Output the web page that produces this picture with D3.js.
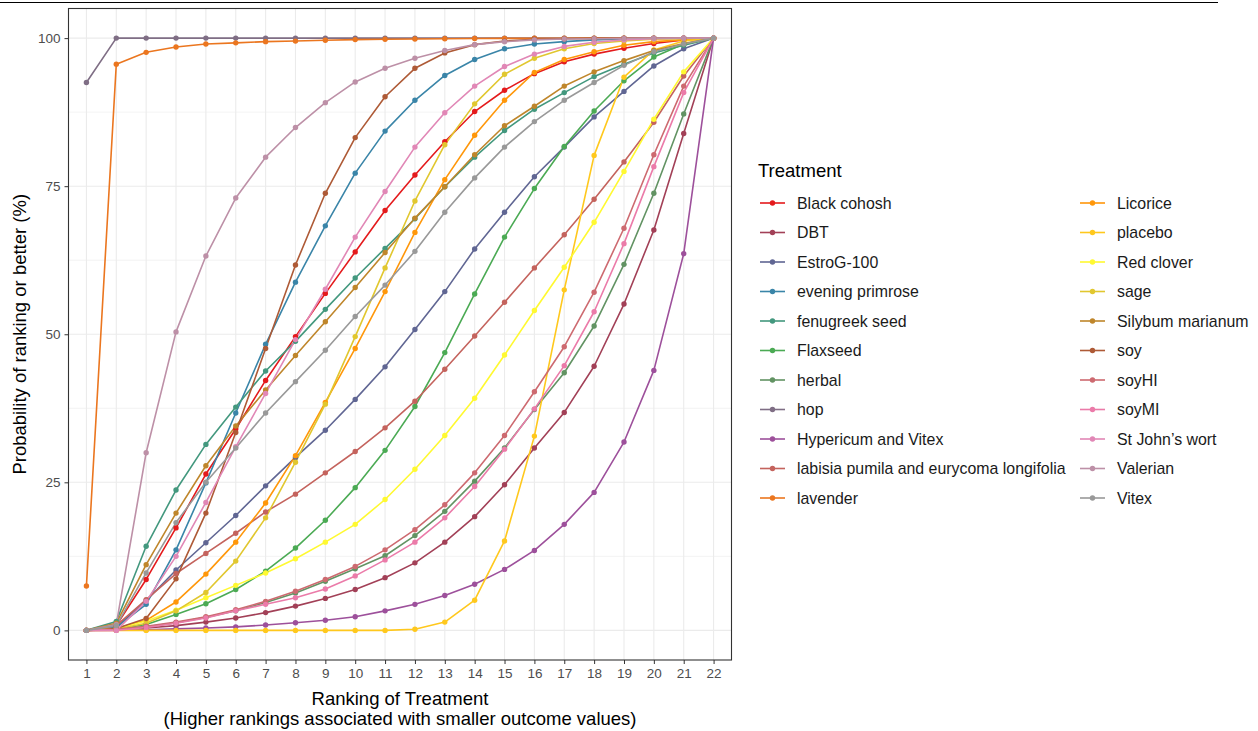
<!DOCTYPE html>
<html>
<head>
    <meta charset="utf-8">
    <title>Cumulative ranking probabilities</title>
    <style>
        body { margin: 0; background: #fff; }
        text { font-family: "Liberation Sans", Arial, sans-serif; }
    </style>
</head>
<body>
    <div id="chart"></div>

    <script src="https://cdn.jsdelivr.net/npm/d3@7"></script>
    <script>
        // ranks on the x axis
        const ranks = ["1", "2", "3", "4", "5", "6", "7", "8", "9", "10", "11",
                       "12", "13", "14", "15", "16", "17", "18", "19", "20", "21", "22"];
        const yTicks = [0, 25, 50, 75, 100];

        // cumulative probability (%) of each rank or better
        const blackCohosh = [0, 0.8, 8.6, 17.3, 26.4, 34.0, 42.2, 49.6, 56.9, 63.9, 70.9, 76.9, 82.5, 87.6, 91.2, 94.0, 96.0, 97.3, 98.3, 99.1, 99.7, 100];
        const dbt = [0, 0.1, 0.4, 0.8, 1.4, 2.1, 3.0, 4.1, 5.4, 6.9, 8.9, 11.4, 14.9, 19.2, 24.6, 30.8, 36.8, 44.6, 55.1, 67.6, 83.9, 100];
        const estroG = [0, 0.5, 5.0, 10.2, 14.8, 19.4, 24.4, 29.2, 33.8, 39.0, 44.5, 50.8, 57.2, 64.4, 70.6, 76.6, 81.6, 86.7, 91.0, 95.3, 98.2, 100];
        const eveningPrimrose = [0, 0.5, 4.4, 13.6, 24.9, 36.7, 48.3, 58.8, 68.3, 77.2, 84.3, 89.5, 93.7, 96.4, 98.2, 99.0, 99.4, 99.7, 99.85, 99.95, 100, 100];
        const fenugreek = [0, 1.5, 14.2, 23.7, 31.4, 37.7, 43.8, 48.8, 54.2, 59.5, 64.5, 69.5, 74.9, 79.9, 84.4, 88.0, 90.8, 93.5, 95.6, 97.5, 98.8, 100];
        const flaxseed = [0, 0.2, 1.0, 2.7, 4.5, 6.9, 10.0, 13.9, 18.6, 24.1, 30.4, 37.8, 46.9, 56.8, 66.4, 74.6, 81.7, 87.7, 92.8, 96.8, 99.0, 100];
        const herbal = [0, 0.15, 0.6, 1.3, 2.2, 3.3, 4.7, 6.3, 8.3, 10.4, 12.6, 16.0, 20.1, 25.2, 30.8, 37.3, 43.5, 51.4, 61.8, 73.8, 87.2, 100];
        const hop = [92.5, 100, 100, 100, 100, 100, 100, 100, 100, 100, 100, 100, 100, 100, 100, 100, 100, 100, 100, 100, 100, 100];
        const hypericumVitex = [0, 0.05, 0.1, 0.25, 0.4, 0.6, 0.9, 1.3, 1.7, 2.3, 3.3, 4.4, 5.9, 7.8, 10.3, 13.5, 17.9, 23.3, 31.8, 43.9, 63.6, 100];
        const labisia = [0, 0.8, 5.2, 9.6, 13.0, 16.4, 20.0, 23.0, 26.6, 30.2, 34.2, 38.7, 44.1, 49.7, 55.4, 61.2, 66.8, 72.8, 79.1, 85.8, 93.6, 100];
        const lavender = [7.5, 95.6, 97.6, 98.5, 99.0, 99.2, 99.4, 99.5, 99.65, 99.75, 99.8, 99.85, 99.9, 99.93, 99.95, 99.97, 99.98, 99.99, 100, 100, 100, 100];
        const licorice = [0, 0.3, 1.7, 4.8, 9.5, 14.9, 21.5, 29.5, 38.5, 47.6, 57.2, 67.2, 76.1, 83.6, 89.5, 94.2, 96.4, 97.7, 98.8, 99.4, 99.7, 100];
        const placebo = [0, 0, 0, 0, 0, 0, 0, 0, 0, 0, 0, 0.2, 1.4, 5.1, 15.1, 32.8, 57.5, 80.2, 93.4, 98.0, 99.5, 100];
        const redClover = [0, 0.3, 1.6, 3.4, 5.5, 7.6, 9.7, 12.1, 14.9, 17.9, 22.1, 27.2, 32.9, 39.2, 46.5, 54.0, 61.3, 68.9, 77.5, 86.3, 94.3, 100];
        const sage = [0, 0.2, 1.2, 3.3, 6.4, 11.7, 19.0, 28.4, 38.2, 49.6, 61.2, 72.5, 82.0, 88.9, 93.9, 96.6, 98.2, 99.1, 99.5, 99.8, 99.9, 100];
        const silybum = [0, 1.2, 11.1, 19.8, 27.8, 34.5, 40.6, 46.4, 52.1, 57.9, 63.8, 69.6, 74.9, 80.3, 85.2, 88.5, 91.9, 94.3, 96.2, 97.9, 99.1, 100];
        const soy = [0, 0.3, 2.0, 8.7, 19.8, 33.4, 47.6, 61.7, 73.8, 83.2, 90.1, 94.9, 97.5, 98.9, 99.5, 99.8, 99.9, 99.95, 100, 100, 100, 100];
        const soyHI = [0, 0.2, 0.7, 1.4, 2.3, 3.5, 4.9, 6.6, 8.6, 10.8, 13.6, 17.0, 21.2, 26.6, 32.9, 40.3, 47.9, 57.1, 67.9, 80.3, 91.9, 100];
        const soyMI = [0, 0, 0.5, 1.2, 2.1, 3.3, 4.4, 5.5, 7.0, 9.2, 11.9, 14.9, 19.0, 24.3, 30.6, 37.4, 44.7, 53.8, 65.3, 78.3, 90.8, 100];
        const stJohnsWort = [0, 0, 4.9, 12.5, 21.6, 31.0, 40.0, 49.1, 57.6, 66.4, 74.1, 81.6, 87.4, 91.9, 95.2, 97.3, 98.6, 99.3, 99.7, 99.9, 100, 100];
        const valerian = [0, 1.0, 30.0, 50.4, 63.2, 73.0, 79.9, 84.9, 89.1, 92.6, 94.9, 96.6, 97.9, 98.9, 99.4, 99.7, 99.85, 99.9, 99.95, 100, 100, 100];
        const vitex = [0, 0.8, 9.7, 18.2, 25.0, 30.8, 36.7, 42.0, 47.3, 53.0, 58.3, 64.0, 70.6, 76.4, 81.6, 85.9, 89.5, 92.5, 95.4, 97.7, 99.0, 100];

        const treatments = ["Black cohosh", "DBT", "EstroG-100", "evening primrose", "fenugreek seed",
            "Flaxseed", "herbal", "hop", "Hypericum and Vitex", "labisia pumila and eurycoma longifolia",
            "lavender", "Licorice", "placebo", "Red clover", "sage", "Silybum marianum", "soy",
            "soyHI", "soyMI", "St John\u2019s wort", "Valerian", "Vitex"];
        const values = [blackCohosh, dbt, estroG, eveningPrimrose, fenugreek, flaxseed, herbal, hop,
            hypericumVitex, labisia, lavender, licorice, placebo, redClover, sage, silybum, soy,
            soyHI, soyMI, stJohnsWort, valerian, vitex];

        const series = treatments.map((name, i) => ({ name, values: values[i] }));

        const width = 1258;
        const height = 731;
        const panel = { left: 68.5, right: 731.5, top: 8.5, bottom: 660 };

        // Set1 stretched to 22 colours, like colorRampPalette in R
        const ramp = d3.piecewise(d3.interpolateRgb, d3.schemeSet1);
        const color = d3.scaleOrdinal()
            .domain(treatments)
            .range(treatments.map((d, i) => ramp(i / (treatments.length - 1))));

        const x = d3.scalePoint()
            .domain(ranks)
            .range([panel.left, panel.right])
            .padding(0.6);

        const y = d3.scaleLinear()
            .domain([-5, 105])
            .range([panel.bottom, panel.top]);

        const svg = d3.select("#chart")
            .append("svg")
            .attr("width", width)
            .attr("height", height);

        svg.append("rect")
            .attr("width", width)
            .attr("height", height)
            .attr("fill", "#fff");

        // thin rule along the very top
        svg.append("line")
            .attr("x1", 0).attr("x2", 1218)
            .attr("y1", 2.5).attr("y2", 2.5)
            .attr("stroke", "#000")
            .attr("stroke-width", 1);

        // grid
        const grid = svg.append("g");
        const minor = [12.5, 37.5, 62.5, 87.5];
        grid.selectAll(".minor")
            .data(minor)
            .join("line")
            .attr("x1", panel.left).attr("x2", panel.right)
            .attr("y1", d => y(d)).attr("y2", d => y(d))
            .attr("stroke", "#ebebeb")
            .attr("stroke-width", 0.6);
        grid.selectAll(".major-y")
            .data(yTicks)
            .join("line")
            .attr("x1", panel.left).attr("x2", panel.right)
            .attr("y1", d => y(d)).attr("y2", d => y(d))
            .attr("stroke", "#ebebeb")
            .attr("stroke-width", 1.1);
        grid.selectAll(".major-x")
            .data(ranks)
            .join("line")
            .attr("x1", d => x(d)).attr("x2", d => x(d))
            .attr("y1", panel.top).attr("y2", panel.bottom)
            .attr("stroke", "#ebebeb")
            .attr("stroke-width", 1.1);

        // axes
        const xAxis = svg.append("g")
            .attr("transform", `translate(0,${panel.bottom})`)
            .call(d3.axisBottom(x).tickSize(4).tickPadding(4));
        const yAxis = svg.append("g")
            .attr("transform", `translate(${panel.left},0)`)
            .call(d3.axisLeft(y).tickValues(yTicks).tickSize(4).tickPadding(4));

        [xAxis, yAxis].forEach(ax => {
            ax.select(".domain").remove();
            ax.selectAll(".tick line").attr("stroke", "#333").attr("stroke-width", 1);
            ax.selectAll(".tick text")
                .attr("fill", "#4d4d4d")
                .style("font-size", "13.5px")
                .style("font-family", "'Liberation Sans', Arial, sans-serif");
        });

        // lines and points
        const line = d3.line()
            .x((d, i) => x(ranks[i]))
            .y(d => y(d));

        const plot = svg.append("g");
        plot.selectAll("path.series")
            .data(series)
            .join("path")
            .attr("class", "series")
            .attr("fill", "none")
            .attr("stroke", d => color(d.name))
            .attr("stroke-width", 1.6)
            .attr("stroke-linejoin", "round")
            .attr("d", d => line(d.values));

        plot.selectAll("g.pts")
            .data(series)
            .join("g")
            .attr("class", "pts")
            .attr("fill", d => color(d.name))
            .selectAll("circle")
            .data(d => d.values)
            .join("circle")
            .attr("cx", (d, i) => x(ranks[i]))
            .attr("cy", d => y(d))
            .attr("r", 2.7);

        // panel border
        svg.append("rect")
            .attr("x", panel.left).attr("y", panel.top)
            .attr("width", panel.right - panel.left)
            .attr("height", panel.bottom - panel.top)
            .attr("fill", "none")
            .attr("stroke", "#333")
            .attr("stroke-width", 1.1);

        // axis titles
        svg.append("text")
            .attr("x", (panel.left + panel.right) / 2)
            .attr("y", 704.5)
            .attr("text-anchor", "middle")
            .style("font-size", "18.5px")
            .attr("fill", "#000")
            .text("Ranking of Treatment");
        svg.append("text")
            .attr("x", (panel.left + panel.right) / 2)
            .attr("y", 724.5)
            .attr("text-anchor", "middle")
            .style("font-size", "18.5px")
            .attr("fill", "#000")
            .text("(Higher rankings associated with smaller outcome values)");
        svg.append("text")
            .attr("transform", `translate(26,${(panel.top + panel.bottom) / 2}) rotate(-90)`)
            .attr("text-anchor", "middle")
            .style("font-size", "18.5px")
            .attr("fill", "#000")
            .text("Probability of ranking or better (%)");

        // legend
        const legend = svg.append("g");
        legend.append("text")
            .attr("x", 758)
            .attr("y", 176.5)
            .style("font-size", "18.5px")
            .attr("fill", "#000")
            .text("Treatment");

        const perCol = 11;
        const item = legend.selectAll("g.item")
            .data(series)
            .join("g")
            .attr("class", "item")
            .attr("transform", (d, i) => {
                const col = Math.floor(i / perCol);
                const row = i % perCol;
                return `translate(${col === 0 ? 760 : 1080},${203 + row * 29.5})`;
            });
        item.append("line")
            .attr("x1", 0).attr("x2", 25)
            .attr("stroke", d => color(d.name))
            .attr("stroke-width", 1.6);
        item.append("circle")
            .attr("cx", 12.5)
            .attr("r", 2.7)
            .attr("fill", d => color(d.name));
        item.append("text")
            .attr("x", 37)
            .attr("dy", "0.36em")
            .style("font-size", "15.9px")
            .attr("fill", "#1a1a1a")
            .text(d => d.name);
    </script>
</body>
</html>
